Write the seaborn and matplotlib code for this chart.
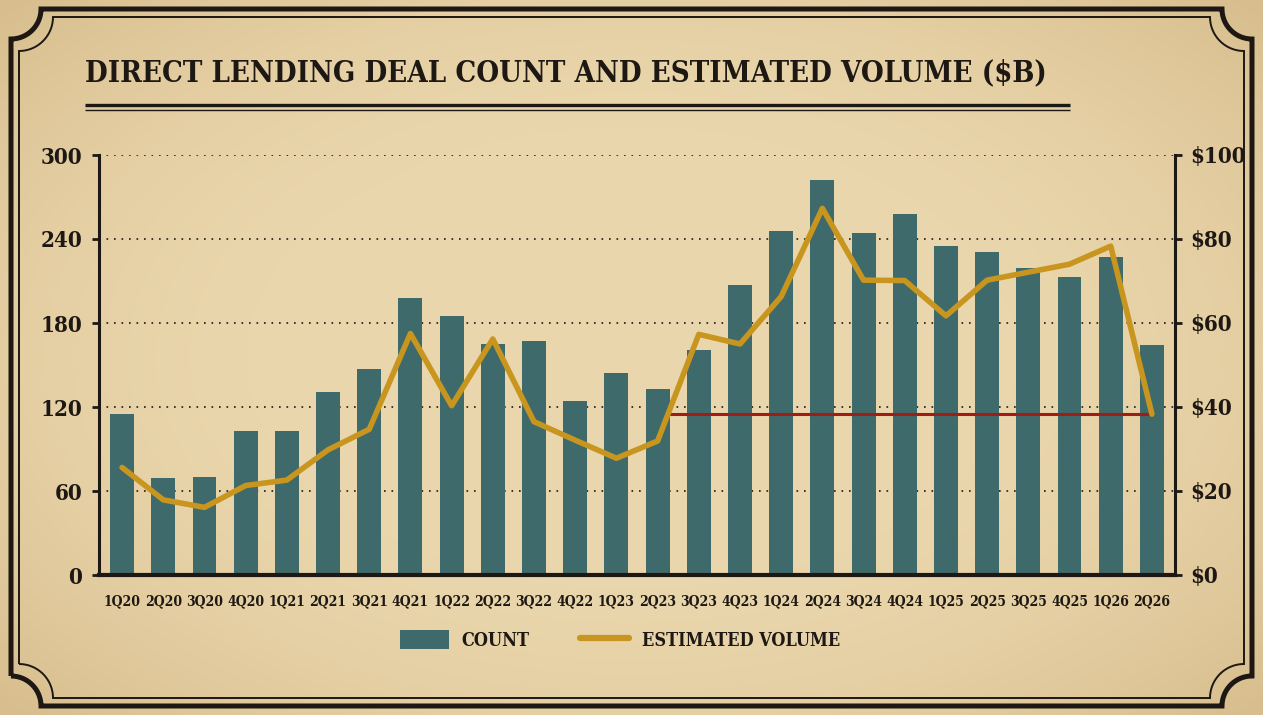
import numpy as np
import pandas as pd
import matplotlib
matplotlib.use('Agg')
import matplotlib.pyplot as plt
import seaborn as sns
from matplotlib import font_manager
from matplotlib.font_manager import FontProperties
from matplotlib.lines import Line2D
from matplotlib.patches import Patch, PathPatch
from matplotlib.path import Path

# chart data
quarters = ['1Q20', '2Q20', '3Q20', '4Q20', '1Q21', '2Q21', '3Q21', '4Q21',
            '1Q22', '2Q22', '3Q22', '4Q22', '1Q23', '2Q23', '3Q23', '4Q23',
            '1Q24', '2Q24', '3Q24', '4Q24', '1Q25', '2Q25', '3Q25', '4Q25',
            '1Q26', '2Q26']
deal_count = [115, 69, 70, 103, 103, 131, 147, 198, 185, 165, 167, 124, 144,
              133, 161, 207, 246, 282, 244, 258, 235, 231, 219, 213, 227, 164]
est_volume = [25.6, 17.9, 16.1, 21.3, 22.6, 29.8, 34.7, 57.5, 40.3, 56.2, 36.5,
              32.1, 27.8, 31.9, 57.3, 55.0, 66.3, 87.3, 70.2, 70.1, 61.7, 70.2,
              72.1, 74.0, 78.3, 38.3]
count_ticks = [0, 60, 120, 180, 240, 300]
volume_ticks = [0, 20, 40, 60, 80, 100]

df = pd.DataFrame({'quarter': quarters, 'count': deal_count, 'volume': est_volume})

bg = '#e9d4aa'
bar_color = '#3f6a6b'
line_color = '#c8951f'
ref_color = '#a01d16'
ink = '#1d1813'


def pick_font():
    # look for a condensed bold serif, else a narrow sans, else plain serif
    files = [f.fname for f in font_manager.fontManager.ttflist]
    for key in ['DejaVuSerifCondensed-Bold.', 'LiberationSansNarrow-Bold.',
                'LiberationSerif-Bold.']:
        for f in files:
            if key in f:
                return FontProperties(fname=f)
    return FontProperties(family='DejaVu Serif', weight='bold')


fp = pick_font()


def fprop(size):
    p = fp.copy()
    p.set_size(size)
    return p


sns.set_theme(style='white')
fig = plt.figure(figsize=(12.63, 7.15), dpi=100, facecolor=bg)

# aged paper: light centre, darker edges
yy, xx = np.mgrid[0:715, 0:1263]
d = np.sqrt(((xx - 631) / 700) ** 2 + ((yy - 357) / 420) ** 2)
shade = np.clip(d - 0.55, 0, None) ** 1.5
centre = np.array([234, 214, 172]) / 255
edge = np.array([216, 190, 142]) / 255
paper = centre + (edge - centre) * np.clip(shade * 1.8, 0, 1)[..., None]
fig.figimage(paper, 0, 0, zorder=-10)

# overlay in pixel coords for frame and title rule
deco = fig.add_axes([0, 0, 1, 1], facecolor='none')
deco.set_xlim(0, 1263)
deco.set_ylim(0, 715)
deco.axis('off')


def frame(x0, y0, x1, y1, r):
    t = np.linspace(0, np.pi / 2, 20)
    pts = []
    pts += list(zip(x0 + r * np.sin(t), y0 + r * np.cos(t)))
    pts += list(zip(x1 - r * np.cos(t), y0 + r * np.sin(t)))
    pts += list(zip(x1 - r * np.sin(t), y1 - r * np.cos(t)))
    pts += list(zip(x0 + r * np.cos(t), y1 - r * np.sin(t)))
    pts.append(pts[0])
    return Path(pts)


deco.add_patch(PathPatch(frame(11, 9, 1252, 706, 30), fill=False, lw=3.6, ec=ink))
deco.add_patch(PathPatch(frame(19, 17, 1244, 698, 34), fill=False, lw=1.4, ec=ink))
deco.plot([85, 1070], [610, 610], color=ink, lw=2.4, solid_capstyle='butt')
deco.plot([85, 1070], [605.5, 605.5], color=ink, lw=1.0, solid_capstyle='butt')

ax = fig.add_axes([99 / 1263, 140 / 715, 1076 / 1263, 420 / 715])
ax.set_facecolor('none')

sns.barplot(data=df, x='quarter', y='count', color=bar_color, saturation=1,
            width=0.58, ax=ax, zorder=2, linewidth=0)
ax.set_xlim(-0.56, len(quarters) - 0.44)
ax.set_ylim(0, 300)
ax.set_yticks(count_ticks)
ax.set_axisbelow(True)
ax.grid(axis='y', color=ink, linestyle=(0, (1, 3.5)), lw=1.2)
ax.grid(axis='x', visible=False)

ax2 = ax.twinx()
# reference level: latest volume, drawn from where the line first crosses it
level = est_volume[-1]
start = 13 + (level - est_volume[13]) / (est_volume[14] - est_volume[13])
ax2.hlines(level, start, len(quarters) - 1, color=ref_color, lw=2.2, zorder=2)
sns.lineplot(x=np.arange(len(quarters)), y=est_volume, ax=ax2, color=line_color,
             lw=4, zorder=3)
ax2.set_ylim(0, 100)
ax2.set_yticks(volume_ticks)
ax2.set_yticklabels([f'${v}' for v in volume_ticks])
ax2.set_xlim(-0.56, len(quarters) - 0.44)

for a in (ax, ax2):
    a.set_xlabel('')
    a.set_ylabel('')
    a.spines['top'].set_visible(False)
ax.spines['right'].set_visible(False)
ax2.spines['left'].set_visible(False)
ax2.spines['bottom'].set_visible(False)
ax.spines['left'].set_linewidth(2.2)
ax.spines['bottom'].set_linewidth(3)
ax2.spines['right'].set_linewidth(2.2)
for s in ('left', 'bottom'):
    ax.spines[s].set_color(ink)
ax2.spines['right'].set_color(ink)

ax.tick_params(axis='y', left=True, length=5, width=2, color=ink, pad=7)
ax.tick_params(axis='x', bottom=False, pad=8)
ax2.tick_params(axis='y', right=True, length=5, width=2, color=ink, pad=6)
for lab in ax.get_yticklabels() + ax2.get_yticklabels():
    lab.set_fontproperties(fprop(16))
    lab.set_color(ink)
for lab in ax.get_xticklabels():
    lab.set_fontproperties(fprop(10))
    lab.set_color(ink)

title = fig.text(85 / 1263, 1 - 73 / 715, 'DIRECT LENDING DEAL COUNT AND ESTIMATED VOLUME ($B)',
                 ha='left', va='center', color=ink, fontproperties=fprop(30))
fig.canvas.draw()
w = title.get_window_extent(fig.canvas.get_renderer()).width
title.set_fontsize(30 * 960 / w)

handles = [Patch(facecolor=bar_color, edgecolor='none'),
           Line2D([], [], color=line_color, lw=4.5)]
fig.legend(handles, ['COUNT', 'ESTIMATED VOLUME'], loc='center',
           bbox_to_anchor=(620 / 1263, 1 - 640 / 715), ncol=2, frameon=False,
           prop=fprop(13), handlelength=2.7, handleheight=1.2, columnspacing=2.8,
           handletextpad=0.7, labelcolor=ink)

fig.savefig('out.png', dpi=100, facecolor=bg)
